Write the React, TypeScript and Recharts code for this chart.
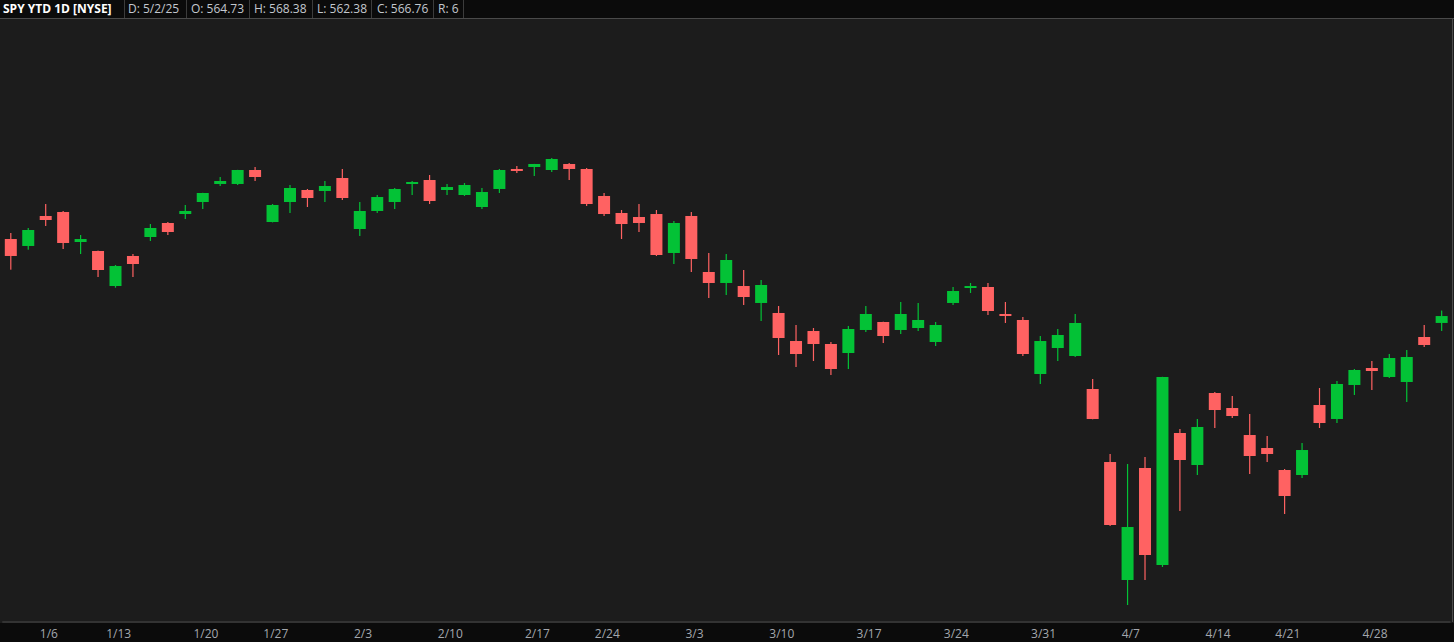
import { Bar, ComposedChart, XAxis, YAxis } from "recharts";

// SPY daily candles, Jan 2 – May 2 2025
const dates = [
  "1/2", "1/3", "1/6", "1/7", "1/8", "1/10", "1/13", "1/14", "1/15", "1/16",
  "1/17", "1/21", "1/22", "1/23", "1/24", "1/27", "1/28", "1/29", "1/30", "1/31",
  "2/3", "2/4", "2/5", "2/6", "2/7", "2/10", "2/11", "2/12", "2/13", "2/14",
  "2/18", "2/19", "2/20", "2/21", "2/24", "2/25", "2/26", "2/27", "2/28", "3/3",
  "3/4", "3/5", "3/6", "3/7", "3/10", "3/11", "3/12", "3/13", "3/14", "3/17",
  "3/18", "3/19", "3/20", "3/21", "3/24", "3/25", "3/26", "3/27", "3/28", "3/31",
  "4/1", "4/2", "4/3", "4/4", "4/7", "4/8", "4/9", "4/10", "4/11", "4/14",
  "4/15", "4/16", "4/17", "4/21", "4/22", "4/23", "4/24", "4/25", "4/28", "4/29",
  "4/30", "5/1", "5/2",
];

const opens = [
  589.41, 587.36, 596.18, 597.35, 588.53, 585.89, 575.59, 584.42, 590.0, 594.12,
  596.76, 600.29, 605.59, 605.59, 609.7, 594.41, 600.29, 603.82, 603.53, 607.35,
  592.35, 597.65, 600.29, 605.59, 606.76, 603.82, 602.35, 598.82, 604.12, 610.0,
  610.58, 609.7, 611.47, 610.0, 602.06, 597.06, 595.88, 596.76, 585.3, 596.18,
  579.71, 576.48, 575.59, 570.6, 567.66, 559.42, 562.36, 558.54, 555.89, 562.66,
  565.01, 562.66, 563.24, 559.13, 570.6, 575.01, 575.3, 567.36, 565.6, 549.72,
  557.36, 555.01, 545.31, 523.84, 489.15, 522.08, 493.56, 532.37, 522.96, 544.13,
  539.72, 531.78, 527.96, 521.49, 520.02, 540.6, 536.49, 546.49, 551.48, 548.84,
  547.37, 560.6, 564.73,
];

const highs = [
  591.18, 592.65, 599.7, 597.65, 590.59, 586.0, 581.77, 585.0, 593.82, 594.41,
  599.41, 603.0, 607.64, 609.75, 610.58, 599.7, 605.29, 604.12, 606.47, 610.0,
  600.29, 602.35, 604.41, 606.47, 608.23, 605.59, 605.88, 604.41, 610.0, 610.88,
  611.5, 613.23, 611.76, 610.29, 602.94, 597.94, 599.7, 597.94, 594.71, 597.35,
  585.3, 585.0, 580.3, 577.36, 569.71, 564.13, 563.24, 559.13, 563.83, 569.71,
  565.1, 570.89, 570.6, 565.01, 575.3, 576.48, 576.48, 570.89, 566.48, 560.89,
  562.95, 567.36, 548.25, 526.2, 523.26, 525.32, 548.9, 533.55, 536.49, 544.43,
  543.25, 537.96, 531.49, 521.79, 529.43, 545.6, 547.66, 551.19, 553.54, 555.6,
  556.78, 564.13, 568.38,
];

const lows = [
  580.39, 586.27, 593.24, 586.47, 585.0, 578.24, 575.09, 578.24, 588.83, 590.59,
  595.29, 598.23, 605.0, 605.29, 606.47, 594.3, 597.06, 598.82, 600.29, 600.88,
  590.3, 597.06, 598.23, 602.35, 599.7, 602.35, 602.06, 598.23, 602.94, 608.82,
  607.94, 609.11, 606.76, 599.12, 596.18, 589.41, 591.47, 584.42, 582.06, 579.71,
  572.07, 572.95, 570.01, 565.3, 555.31, 551.78, 553.54, 549.43, 551.19, 562.07,
  558.83, 561.48, 562.36, 557.95, 570.01, 573.54, 567.07, 564.72, 555.01, 546.78,
  553.54, 554.72, 536.4, 505.03, 481.8, 489.15, 492.97, 509.44, 520.02, 533.84,
  536.78, 520.32, 523.84, 508.56, 519.14, 533.84, 535.31, 543.55, 545.02, 548.54,
  541.49, 557.66, 562.38,
];

const closes = [
  584.42, 592.06, 595.0, 588.24, 589.41, 580.3, 581.47, 582.06, 592.65, 591.47,
  597.65, 602.94, 606.47, 609.7, 607.64, 599.41, 604.41, 601.47, 605.0, 601.47,
  597.65, 601.76, 604.12, 606.17, 600.59, 604.7, 605.29, 603.23, 609.7, 609.41,
  611.47, 612.94, 610.0, 599.7, 596.76, 593.82, 594.12, 584.71, 594.12, 583.53,
  576.48, 583.24, 572.36, 575.89, 560.3, 555.6, 558.54, 551.19, 562.95, 567.36,
  560.89, 567.36, 565.6, 564.13, 574.12, 575.59, 568.24, 566.77, 555.6, 559.42,
  561.19, 564.72, 536.49, 505.32, 504.73, 496.5, 548.84, 524.43, 534.14, 539.13,
  537.37, 525.61, 526.2, 513.85, 527.37, 535.31, 546.78, 550.9, 550.6, 554.42,
  554.72, 558.25, 566.76,
];

// week labels; holidays (1/20, 2/17) sit on the next session
const tickDates = [
  "1/6", "1/13", "1/21", "1/27", "2/3", "2/10", "2/18", "2/24", "3/3",
  "3/10", "3/17", "3/24", "3/31", "4/7", "4/14", "4/21", "4/28",
];
const tickLabels = [
  "1/6", "1/13", "1/20", "1/27", "2/3", "2/10", "2/17", "2/24", "3/3",
  "3/10", "3/17", "3/24", "3/31", "4/7", "4/14", "4/21", "4/28",
];

const header = [
  { text: "SPY YTD 1D [NYSE]", bold: true },
  { text: "D: 5/2/25" },
  { text: "O: 564.73" },
  { text: "H: 568.38" },
  { text: "L: 562.38" },
  { text: "C: 566.76" },
  { text: "R: 6" },
];
const headerLeft = [3, 128, 191, 254, 317, 377, 438];
const headerSeps = [124, 186, 249, 312, 371, 433, 463];

const rows = dates.map((date, i) => ({
  date,
  open: opens[i],
  high: highs[i],
  low: lows[i],
  close: closes[i],
}));

const UP = "#03c236";
const DOWN = "#ff6262";
const FONT = "'Open Sans', 'DejaVu Sans', sans-serif";

const Candle = (props: any) => {
  const { x, y, width, height, payload } = props;
  if (!payload) return null;
  const { open, close, high, low } = payload;
  const top = Math.min(y, y + height);
  const h = Math.abs(height);
  const k = h / (high - low);
  const cx = x + width / 2;
  const yO = top + (high - open) * k;
  const yC = top + (high - close) * k;
  const color = close >= open ? UP : DOWN;
  const bodyTop = Math.min(yO, yC);
  const bodyH = Math.max(2, Math.abs(yO - yC));
  return (
    <g>
      <rect x={cx - 0.6} y={top} width={1.2} height={h} fill={color} />
      <rect x={cx - 6} y={bodyTop} width={12} height={bodyH} fill={color} />
    </g>
  );
};

const WeekTick = (props: any) => {
  const { x, y, payload } = props;
  const idx = tickDates.indexOf(payload.value);
  if (idx < 0) return <g />;
  return (
    <text
      x={x + 3}
      y={y + 8}
      textAnchor="middle"
      fill="#a3a7ad"
      fontSize={12}
      fontFamily={FONT}
    >
      {tickLabels[idx]}
    </text>
  );
};

export default function App() {
  return (
    <div
      style={{
        position: "fixed",
        left: 0,
        top: 0,
        width: 1454,
        height: 642,
        background: "#1c1c1c",
        overflow: "hidden",
        fontFamily: FONT,
      }}
    >
      {/* header strip */}
      <div
        style={{
          position: "absolute",
          left: 0,
          top: 0,
          width: 1454,
          height: 18,
          background: "#0b0b0b",
          borderBottom: "1px solid #4a4a4a",
        }}
      />
      {headerSeps.map((sx) => (
        <div
          key={sx}
          style={{
            position: "absolute",
            left: sx,
            top: 0,
            width: 1,
            height: 18,
            background: "#3c3c3c",
          }}
        />
      ))}
      {header.map((h, i) => (
        <div
          key={h.text}
          style={{
            position: "absolute",
            left: headerLeft[i],
            top: 0,
            height: 18,
            lineHeight: "17px",
            fontSize: 12,
            fontWeight: h.bold ? 700 : 400,
            color: h.bold ? "#ffffff" : "#c3c8ce",
            whiteSpace: "nowrap",
          }}
        >
          {h.text}
        </div>
      ))}
      {/* bottom axis strip */}
      <div
        style={{
          position: "absolute",
          left: 0,
          top: 623,
          width: 1454,
          height: 19,
          background: "#0b0b0b",
        }}
      />
      {/* right border of plot */}
      <div
        style={{
          position: "absolute",
          left: 1452,
          top: 19,
          width: 1,
          height: 603,
          background: "#4a4a4a",
        }}
      />
      <div style={{ position: "absolute", left: 0, top: 0 }}>
        <ComposedChart
          width={1454}
          height={642}
          data={rows}
          margin={{ top: 19, right: 3.4, left: 2.3, bottom: 0 }}
          barCategoryGap={0}
        >
          <XAxis
            dataKey="date"
            interval={0}
            height={20}
            tickLine={false}
            axisLine={{ stroke: "#4a4a4a" }}
            tick={<WeekTick />}
          />
          <YAxis hide domain={[476.8, 654.1]} allowDataOverflow />
          <Bar
            dataKey={(d: any) => [d.low, d.high]}
            shape={<Candle />}
            isAnimationActive={false}
          />
        </ComposedChart>
      </div>
    </div>
  );
}
